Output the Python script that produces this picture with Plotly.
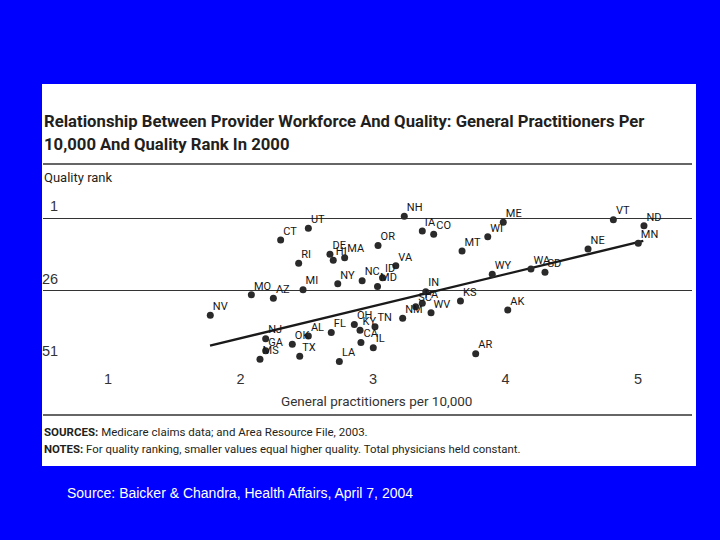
import plotly.graph_objects as go

# ---------------- data ----------------
states = ["UT", "CT", "RI", "DE", "HI", "MA", "OR", "NY", "NC", "ID",
          "MD", "NH", "IA", "CO", "VA", "MT", "WI", "ME", "VT", "ND",
          "MN", "NE", "WY", "WA", "SD", "IN", "KS", "SC", "PA", "NM",
          "WV", "AK", "AR", "MO", "AZ", "MI", "NV", "NJ", "GA", "MS",
          "OK", "AL", "TX", "FL", "LA", "OH", "KY", "TN", "CA", "IL"]
gp_per_10000 = [2.512, 2.303, 2.439, 2.675, 2.700, 2.786, 3.038, 2.734, 2.918, 3.072,
                3.034, 3.236, 3.372, 3.458, 3.172, 3.672, 3.866, 3.983, 4.814, 5.045,
                5.002, 4.623, 3.900, 4.192, 4.298, 3.398, 3.660, 3.322, 3.372, 3.224,
                3.438, 4.017, 3.775, 2.082, 2.248, 2.472, 1.772, 2.190, 2.190, 2.147,
                2.391, 2.512, 2.447, 2.685, 2.746, 2.859, 2.902, 3.015, 2.909, 3.002]
quality_rank = [4.4, 8.5, 16.5, 13.4, 15.5, 14.6, 10.4, 23.6, 22.5, 21.5,
                24.5, 0.3, 5.4, 6.5, 17.4, 12.3, 7.4, 2.4, 1.5, 3.6,
                9.6, 11.6, 20.3, 18.5, 19.6, 26.3, 29.5, 31.5, 30.3, 35.5,
                33.6, 32.6, 47.7, 27.4, 28.6, 25.6, 34.4, 42.5, 46.7, 49.6,
                44.4, 41.6, 48.6, 40.4, 50.4, 37.6, 39.6, 38.4, 43.8, 45.6]

fit_x = [1.77, 5.04]
fit_rank = [44.9, 8.8]

x_ticks = [1, 2, 3, 4, 5]
x_tick_labels = ["1", "2", "3", "4", "5"]
rank_ticks = [1, 26, 51]
rank_tick_labels = ["1", "26", "51"]
x_title = "General practitioners per 10,000"

# ---------------- layout helpers ----------------
W, H = 720, 540
PL, PR, PT, PB = 43, 692, 195, 364          # plot area in pixels
X0, XPX0, XSC = 1.0, 108.0, 132.5           # x value 1 at px 108, 132.5 px / unit
R0, RPX0, RSC = 1.0, 218.3, 2.9             # rank 1 at px 218.3, 2.9 px / rank

def px_to_x(px):
    return X0 + (px - XPX0) / XSC

def py_to_rank(py):
    return R0 + (py - RPX0) / RSC

def pxp(px):   # pixel -> paper x
    return (px - PL) / (PR - PL)

def pyp(py):   # pixel -> paper y
    return (PB - py) / (PB - PT)

NARROW = "Roboto, Liberation Sans, sans-serif"
ARIAL = "Liberation Sans, Arial, sans-serif"
DARK = "#231f20"
BLUE = "#0000ff"

fig = go.Figure()

fig.add_trace(go.Scatter(
    x=fit_x, y=fit_rank, mode="lines",
    line=dict(color="#1a1a1a", width=2.4),
    hoverinfo="skip", showlegend=False, cliponaxis=False))

# state dots
fig.add_trace(go.Scatter(
    x=gp_per_10000, y=quality_rank, mode="markers",
    marker=dict(size=7, color="#2a2a2a"),
    text=states, hoverinfo="text+x+y",
    showlegend=False, cliponaxis=False))

# state labels (tiny invisible markers keep the labels close to the dots)
fig.add_trace(go.Scatter(
    x=gp_per_10000, y=quality_rank, mode="markers+text",
    text=states, textposition="top right",
    textfont=dict(family=NARROW, size=11, color="#161616"),
    marker=dict(size=2.5, color="rgba(0,0,0,0)"),
    hoverinfo="skip", showlegend=False, cliponaxis=False))

shapes = [
    # white panel
    dict(type="rect", xref="paper", yref="paper", layer="below",
         x0=pxp(42), x1=pxp(696), y0=pyp(466), y1=pyp(84),
         fillcolor="white", line=dict(width=0)),
    # rule under title
    dict(type="line", xref="paper", yref="paper",
         x0=pxp(43), x1=pxp(692), y0=pyp(164), y1=pyp(164),
         line=dict(color="#333333", width=1.3)),
    # rule above notes
    dict(type="line", xref="paper", yref="paper",
         x0=pxp(43), x1=pxp(692), y0=pyp(415), y1=pyp(415),
         line=dict(color="#333333", width=1.3)),
]

annotations = []
def ann(text, px, py, size, color=DARK, family=NARROW, xanchor="left"):
    annotations.append(dict(text=text, x=pxp(px), y=pyp(py), xref="paper", yref="paper",
                            xanchor=xanchor, yanchor="middle", showarrow=False,
                            font=dict(family=family, size=size, color=color)))

ann("<b>Relationship Between Provider Workforce And Quality: General Practitioners Per</b>",
    42, 121.3, 16.7)
ann("<b>10,000 And Quality Rank In 2000</b>", 42, 144.7, 16.7)
ann("Quality rank", 42, 177.3, 13)
ann("<b>SOURCES:</b> Medicare claims data; and Area Resource File, 2003.", 42, 431.7, 11.5)
ann("<b>NOTES:</b> For quality ranking, smaller values equal higher quality. Total physicians held constant.",
    42, 449.3, 11.4)
ann("Source: Baicker &amp; Chandra, Health Affairs, April 7, 2004", 65, 493, 14,
    color="white", family=ARIAL)
ann(x_title, 376, 400.7, 13.5, color="#333333", xanchor="center")

# y tick labels: right-aligned, above the grid lines
for rv, lab in zip(rank_ticks, rank_tick_labels):
    annotations.append(dict(text=lab, x=pxp(59.5), xref="paper", y=rv, yref="y",
                            xanchor="right", yanchor="bottom", yshift=2, showarrow=False,
                            font=dict(family=ARIAL, size=14.5, color="#333333")))

fig.update_layout(
    width=W, height=H,
    margin=dict(l=PL, r=W - PR, t=PT, b=H - PB, pad=0),
    paper_bgcolor=BLUE, plot_bgcolor="rgba(0,0,0,0)",
    shapes=shapes, annotations=annotations,
    xaxis=dict(range=[px_to_x(PL), px_to_x(PR)], tickvals=x_ticks, ticktext=x_tick_labels,
               showgrid=False, zeroline=False, showline=False, ticks="",
               tickfont=dict(family=ARIAL, size=14.5, color="#333333"),
               ticklabelstandoff=4),
    yaxis=dict(range=[py_to_rank(PB), py_to_rank(PT)], tickvals=rank_ticks,
               showticklabels=False, showgrid=True, gridcolor="#333333", gridwidth=1.3,
               zeroline=False, showline=False, ticks=""),
)

fig.write_html("out.html", config={"displayModeBar": False},
               post_script="document.body.style.margin='0';")
